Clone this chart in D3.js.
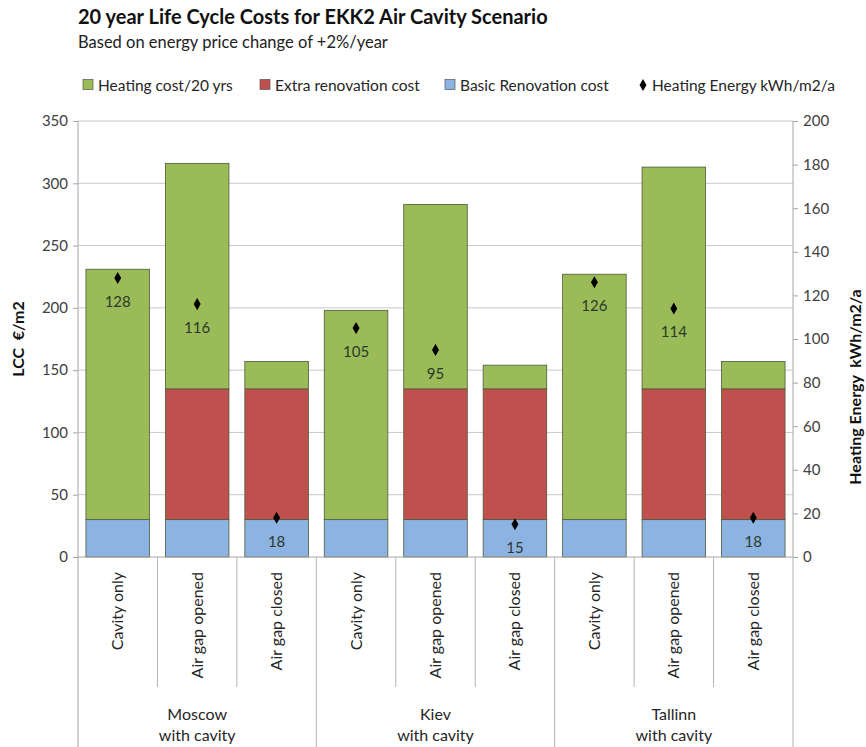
<!DOCTYPE html>
<html>
<head>
<meta charset="utf-8">
<script src="https://cdn.jsdelivr.net/npm/d3@7"></script>
<style>
  body { margin: 0; background: #fff; }
  svg { font-family: Lato, "Open Sans", sans-serif; }
</style>
</head>
<body>
<div id="chart"></div>
<script>
// data
const cities = ["Moscow", "Kiev", "Tallinn"];
const variants = ["Cavity only", "Air gap opened", "Air gap closed"];
const basicCost = [30, 30, 30, 30, 30, 30, 30, 30, 30];
const extraCost = [0, 105, 105, 0, 105, 105, 0, 105, 105];
const heatingCost = [201, 181, 22, 168, 148, 19, 197, 178, 22];
const heatingEnergy = [128, 116, 18, 105, 95, 15, 126, 114, 18];
const lccTicks = [0, 50, 100, 150, 200, 250, 300, 350];
const energyTicks = [0, 20, 40, 60, 80, 100, 120, 140, 160, 180, 200];

const series = [
  {key: "basic", name: "Basic Renovation cost", color: "#8db3e2", values: basicCost},
  {key: "extra", name: "Extra renovation cost", color: "#c0504d", values: extraCost},
  {key: "heating", name: "Heating cost/20 yrs", color: "#9bbb59", values: heatingCost}
];

const W = 866, H = 747;
const margin = {top: 121, right: 73, bottom: 190, left: 78};
const width = W - margin.left - margin.right,
      height = H - margin.top - margin.bottom;

const svg = d3.select("#chart").append("svg")
    .attr("width", W).attr("height", H);

// title
svg.append("text").attr("x", 78).attr("y", 24)
    .attr("font-size", 20).attr("font-weight", "bold").attr("fill", "#111")
    .text("20 year Life Cycle Costs for EKK2 Air Cavity Scenario");
svg.append("text").attr("x", 78).attr("y", 48)
    .attr("font-size", 16.5).attr("fill", "#222")
    .text("Based on energy price change of +2%/year");

const g = svg.append("g").attr("transform", `translate(${margin.left},${margin.top})`);

const rows = [];
cities.forEach((c, ci) => variants.forEach((v, vi) => rows.push({city: c, variant: v, i: ci * 3 + vi})));

const x = d3.scaleBand().domain(rows.map(d => d.i)).range([0, width]).paddingInner(0.2).paddingOuter(0.1);
const step = width / rows.length;
const yL = d3.scaleLinear().domain([0, 350]).range([height, 0]);
const yR = d3.scaleLinear().domain([0, 200]).range([height, 0]);

// gridlines
g.append("g").selectAll("line").data(lccTicks.slice(1)).join("line")
    .attr("x1", 0).attr("x2", width)
    .attr("y1", d => yL(d)).attr("y2", d => yL(d))
    .attr("stroke", "#c8c8c8").attr("stroke-width", 1);

// stacked bars
const table = rows.map(r => ({i: r.i, basic: basicCost[r.i], extra: extraCost[r.i], heating: heatingCost[r.i]}));
const stack = d3.stack().keys(series.map(s => s.key))(table);

g.append("g").selectAll("g").data(stack).join("g")
    .attr("fill", (d, k) => series[k].color)
    .selectAll("rect").data(d => d.filter(p => p[1] > p[0])).join("rect")
    .attr("x", d => x(d.data.i))
    .attr("width", x.bandwidth())
    .attr("y", d => yL(d[1]))
    .attr("height", d => yL(d[0]) - yL(d[1]))
    .attr("stroke", "#4d5a3a").attr("stroke-width", 0.8);

// left axis
const axL = g.append("g").call(d3.axisLeft(yL).tickValues(lccTicks).tickSize(5).tickPadding(5));
axL.select(".domain").remove();
axL.selectAll(".tick line").attr("stroke", "#a6a6a6");
axL.selectAll("text").attr("font-size", 15).attr("fill", "#404040").attr("font-family", "Lato, sans-serif");
g.append("line").attr("x1", 0).attr("x2", 0).attr("y1", 0).attr("y2", H - margin.top)
    .attr("stroke", "#a6a6a6");

// right axis
const axR = g.append("g").attr("transform", `translate(${width},0)`)
    .call(d3.axisRight(yR).tickValues(energyTicks).tickSize(5).tickPadding(5));
axR.select(".domain").attr("stroke", "#a6a6a6").attr("d", `M0,0V${height}`);
axR.selectAll(".tick line").attr("stroke", "#a6a6a6");
axR.selectAll("text").attr("font-size", 15).attr("fill", "#404040").attr("font-family", "Lato, sans-serif");

// x axis baseline and category separators
g.append("line").attr("x1", 0).attr("x2", width).attr("y1", height).attr("y2", height)
    .attr("stroke", "#a6a6a6");
const seps = d3.range(1, rows.length + 1);
g.append("g").selectAll("line").data(seps).join("line")
    .attr("x1", d => d * step).attr("x2", d => d * step)
    .attr("y1", height)
    .attr("y2", d => d % 3 === 0 ? H - margin.top : height + 130)
    .attr("stroke", "#b4b4b4");

// category labels
g.append("g").selectAll("text").data(rows).join("text")
    .attr("transform", d => `translate(${x(d.i) + x.bandwidth() / 2 + 5.5},${height + 15}) rotate(-90)`)
    .attr("text-anchor", "end")
    .attr("font-size", 16).attr("fill", "#262626")
    .text(d => d.variant);

// group labels
const grp = g.append("g").selectAll("text").data(cities).join("text")
    .attr("text-anchor", "middle")
    .attr("font-size", 16).attr("fill", "#262626");
grp.append("tspan").attr("x", (d, k) => (k * 3 + 1.5) * step).attr("y", height + 163).text(d => d);
grp.append("tspan").attr("x", (d, k) => (k * 3 + 1.5) * step).attr("y", height + 184).text("with cavity");

// heating energy markers
const diamond = d3.symbol().type(d3.symbolDiamond).size(42);
g.append("g").selectAll("path").data(rows).join("path")
    .attr("transform", d => `translate(${x(d.i) + x.bandwidth() / 2},${yR(heatingEnergy[d.i])})`)
    .attr("d", diamond).attr("fill", "#000");
g.append("g").selectAll("text").data(rows).join("text")
    .attr("x", d => x(d.i) + x.bandwidth() / 2)
    .attr("y", d => yR(heatingEnergy[d.i]) + 29)
    .attr("text-anchor", "middle")
    .attr("font-size", 15).attr("fill", "#2a3a2a")
    .text(d => heatingEnergy[d.i]);

// axis titles
svg.append("text")
    .attr("transform", `translate(24,339) rotate(-90)`)
    .attr("text-anchor", "middle").attr("font-size", 16).attr("font-weight", "bold").attr("fill", "#111")
    .style("white-space", "pre")
    .text("LCC  €/m2");
svg.append("text")
    .attr("transform", `translate(861,387) rotate(-90)`)
    .attr("text-anchor", "middle").attr("font-size", 16).attr("font-weight", "bold").attr("fill", "#111")
    .style("white-space", "pre")
    .text("Heating Energy  kWh/m2/a");

// legend
const legendItems = [
  {name: "Heating cost/20 yrs", color: "#9bbb59", x: 83},
  {name: "Extra renovation cost", color: "#c0504d", x: 260},
  {name: "Basic Renovation cost", color: "#8db3e2", x: 445}
];
const leg = svg.append("g").attr("transform", "translate(0,85)");
legendItems.forEach(it => {
  leg.append("rect").attr("x", it.x).attr("y", -5.5).attr("width", 10).attr("height", 10)
      .attr("fill", it.color).attr("stroke", "#555").attr("stroke-width", 0.7);
  leg.append("text").attr("x", it.x + 15).attr("y", 5.5).attr("font-size", 15.5).attr("fill", "#262626").text(it.name);
});
leg.append("path").attr("transform", "translate(643,0)").attr("d", diamond).attr("fill", "#000");
leg.append("text").attr("x", 652).attr("y", 5.5).attr("font-size", 15.5).attr("fill", "#262626").text("Heating Energy kWh/m2/a");
</script>
</body>
</html>
